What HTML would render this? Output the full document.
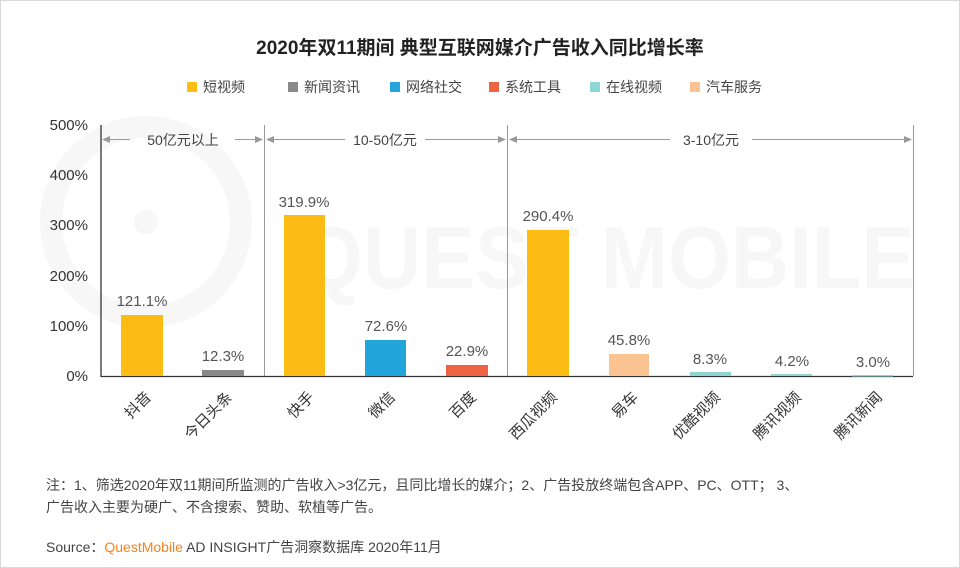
<!DOCTYPE html>
<html><head><meta charset="utf-8"><style>
body{margin:0;background:#fff;}
svg{display:block;font-family:"Liberation Sans","Noto Sans CJK SC",sans-serif;}
</style></head><body>
<svg width="960" height="568" viewBox="0 0 960 568" xmlns="http://www.w3.org/2000/svg">
<rect x="0.5" y="0.5" width="959" height="567" fill="#fff" stroke="#d9d9d9"/>
<g fill="none" stroke="#f7f7f7" stroke-width="22">
<circle cx="146" cy="222" r="95"/>
</g>
<circle cx="146" cy="222" r="12" fill="#f7f7f7"/>
<text x="300" y="288" font-size="88" fill="#f7f7f7" font-weight="bold" textLength="615" lengthAdjust="spacingAndGlyphs">QUEST MOBILE</text>
<text x="480" y="54" text-anchor="middle" font-size="19" font-weight="bold" fill="#222">2020年双11期间 典型互联网媒介广告收入同比增长率</text>
<g font-size="14" fill="#444">
<rect x="187" y="82" width="10" height="10" fill="#FDBC14"/><text x="203" y="92">短视频</text>
<rect x="288" y="82" width="10" height="10" fill="#898989"/><text x="304" y="92">新闻资讯</text>
<rect x="390" y="82" width="10" height="10" fill="#22A5DA"/><text x="406" y="92">网络社交</text>
<rect x="489" y="82" width="10" height="10" fill="#EE6442"/><text x="505" y="92">系统工具</text>
<rect x="590" y="82" width="10" height="10" fill="#8DD6D3"/><text x="606" y="92">在线视频</text>
<rect x="690" y="82" width="10" height="10" fill="#FAC391"/><text x="706" y="92">汽车服务</text>
</g>
<g font-size="15" fill="#333" text-anchor="end">
<text x="88" y="130">500%</text><text x="88" y="180">400%</text><text x="88" y="230">300%</text>
<text x="88" y="281">200%</text><text x="88" y="331">100%</text><text x="88" y="381">0%</text>
</g>
<line x1="101" y1="125" x2="101" y2="377" stroke="#333" stroke-width="1.3"/>
<line x1="101" y1="376.5" x2="913" y2="376.5" stroke="#333" stroke-width="1.3"/>
<g stroke="#999" stroke-width="1">
<line x1="264.5" y1="125" x2="264.5" y2="376"/>
<line x1="507.5" y1="125" x2="507.5" y2="376"/>
<line x1="913.5" y1="125" x2="913.5" y2="376"/>
<line x1="104" y1="139.5" x2="130" y2="139.5"/><line x1="235" y1="139.5" x2="262" y2="139.5"/>
<line x1="267" y1="139.5" x2="345" y2="139.5"/><line x1="425" y1="139.5" x2="505" y2="139.5"/>
<line x1="510" y1="139.5" x2="670" y2="139.5"/><line x1="752" y1="139.5" x2="911" y2="139.5"/>
</g>
<g fill="#999">
<path d="M102 139.5l8-3.5v7z"/><path d="M263 139.5l-8-3.5v7z"/>
<path d="M266 139.5l8-3.5v7z"/><path d="M506 139.5l-8-3.5v7z"/>
<path d="M509 139.5l8-3.5v7z"/><path d="M912 139.5l-8-3.5v7z"/>
</g>
<g font-size="14" fill="#444" text-anchor="middle">
<text x="183" y="145">50亿元以上</text><text x="385" y="145">10-50亿元</text><text x="711" y="145">3-10亿元</text>
</g>
<rect x="121" y="315" width="42" height="61" fill="#FDBC14"/>
<rect x="202" y="370" width="42" height="6" fill="#898989"/>
<rect x="284" y="215" width="41" height="161" fill="#FDBC14"/>
<rect x="365" y="340" width="41" height="36" fill="#22A5DA"/>
<rect x="446" y="365" width="42" height="11" fill="#EE6442"/>
<rect x="527" y="230" width="42" height="146" fill="#FDBC14"/>
<rect x="609" y="354" width="40" height="22" fill="#FAC391"/>
<rect x="690" y="372" width="41" height="4" fill="#8DD6D3"/>
<rect x="771" y="374" width="41" height="2" fill="#8DD6D3"/>
<rect x="852" y="375" width="41" height="1.5" fill="#8DD6D3"/>
<g font-size="15" fill="#555" text-anchor="middle">
<text x="142" y="306">121.1%</text><text x="223" y="361">12.3%</text>
<text x="304" y="207">319.9%</text><text x="386" y="331">72.6%</text>
<text x="467" y="356">22.9%</text><text x="548" y="221">290.4%</text>
<text x="629" y="345">45.8%</text><text x="710" y="364">8.3%</text>
<text x="792" y="366">4.2%</text><text x="873" y="367">3.0%</text>
</g>
<g font-size="15" fill="#333" text-anchor="end">
<text transform="translate(152,398) rotate(-45)">抖音</text>
<text transform="translate(233,398) rotate(-45)">今日头条</text>
<text transform="translate(315,398) rotate(-45)">快手</text>
<text transform="translate(396,398) rotate(-45)">微信</text>
<text transform="translate(477,398) rotate(-45)">百度</text>
<text transform="translate(558,398) rotate(-45)">西瓜视频</text>
<text transform="translate(639,398) rotate(-45)">易车</text>
<text transform="translate(721,398) rotate(-45)">优酷视频</text>
<text transform="translate(802,398) rotate(-45)">腾讯视频</text>
<text transform="translate(883,398) rotate(-45)">腾讯新闻</text>
</g>
<g font-size="14" fill="#444">
<text x="46" y="490">注：1、筛选2020年双11期间所监测的广告收入&gt;3亿元，且同比增长的媒介；2、广告投放终端包含APP、PC、OTT； 3、</text>
<text x="46" y="512">广告收入主要为硬广、不含搜索、赞助、软植等广告。</text>
<text x="46" y="552">Source：<tspan fill="#F5821F">QuestMobile</tspan> AD INSIGHT广告洞察数据库 2020年11月</text>
</g>
</svg>
</body></html>
